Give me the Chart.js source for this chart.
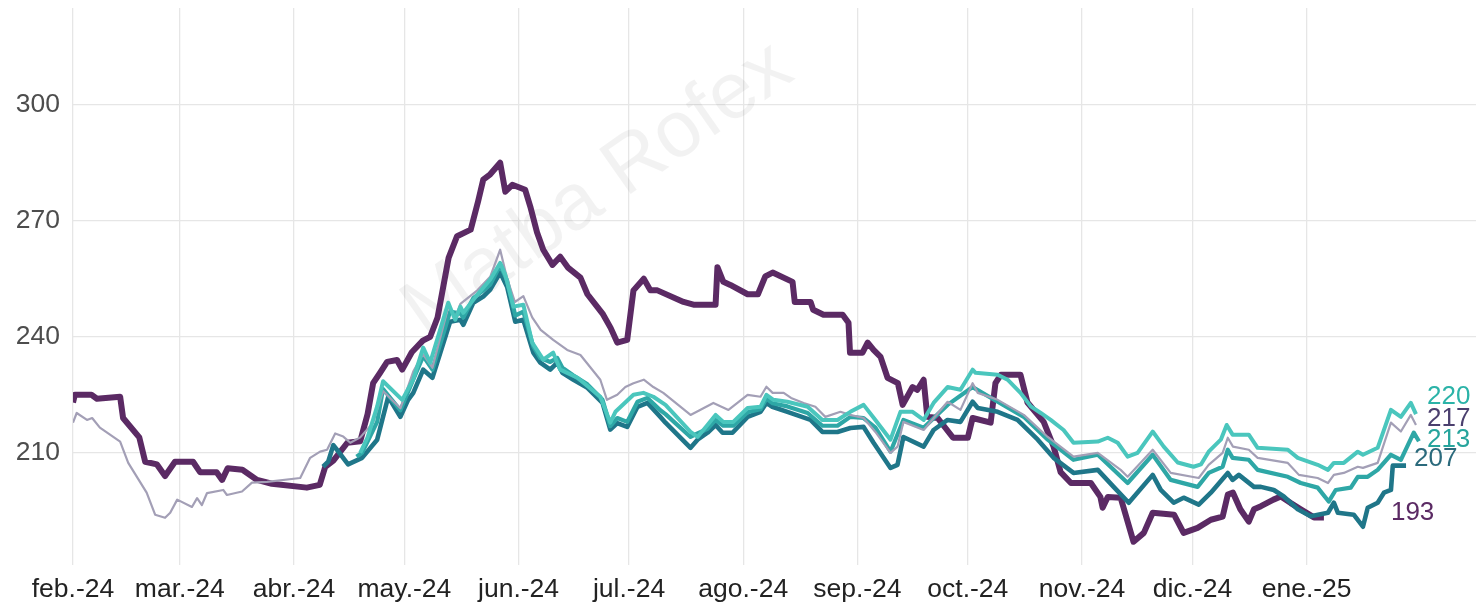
<!DOCTYPE html>
<html>
<head>
<meta charset="utf-8">
<script src="https://cdn.jsdelivr.net/npm/chart.js@4.4.1/dist/chart.umd.min.js"></script>
<style>
  html, body { margin: 0; padding: 0; background: #fff; }
  #wrap { width: 1476px; height: 607px; }
</style>
</head>
<body>
<div id="wrap"><canvas id="chart" width="1476" height="607"></canvas></div>
<script>
// x values are days counted from 1 Feb 2024
const monthStarts = [0, 29, 60, 90, 121, 151, 182, 213, 243, 274, 304, 335];
const monthLabels = ["feb.-24", "mar.-24", "abr.-24", "may.-24", "jun.-24", "jul.-24",
  "ago.-24", "sep.-24", "oct.-24", "nov.-24", "dic.-24", "ene.-25"];
const yTicks = [210, 240, 270, 300];

const series193 = [[0,223],[0.5,225],[5,225],[6.5,224],[12.8,224.5],[13.6,219],[18,214],[19.6,207.7],[22.8,207],[25,204],[27.7,207.7],[32.6,207.7],[34.5,205],[39,205],[40.5,203],[42,206],[46,205.6],[50,203],[54,202],[63.5,201],[67,201.7],[68.5,206.4],[70.7,208],[74.5,212.6],[78,213],[80,220],[81.5,228],[83.4,230.7],[85.3,233.5],[88,234],[89.4,231.5],[92,236],[95,239],[97,240],[99,245],[102,260.4],[104.3,266],[108,267.7],[110,275],[111.4,280.6],[113.3,282],[116,285],[117.4,277.5],[119.3,279.3],[122.8,278],[124.2,273.6],[126,267],[127.7,262.5],[130.2,258.6],[132.3,260.7],[134.5,257.8],[137.8,255.3],[139.7,251],[143.8,246],[146,242.3],[147.8,238.5],[150.5,239.2],[152.2,252],[155,255],[156.8,252],[158.7,252],[165.8,249],[168.5,248.3],[174.5,248.3],[175,258],[176.6,254.2],[178.5,253.4],[183.2,251],[186,251],[188,255.6],[190,256.6],[195.4,254.2],[196,249],[200.3,249],[201,247],[203.8,245.7],[209,245.7],[210.6,243.6],[211,235.9],[214.4,235.9],[215.8,238.5],[217.4,236.6],[219.3,234.8],[221.2,229.4],[224,228],[225.3,222.4],[228,227],[229.3,226.3],[231,228.9],[232,219.3],[234.8,219],[239,213.9],[243,213.9],[244.3,219],[249.2,217.8],[250.5,228],[252,230.2],[257.3,230.2],[259.2,223],[263.6,218],[266.3,211.6],[268.2,205],[271,202.2],[276.4,202.2],[279,198.6],[279.6,195.8],[281,198.6],[284.5,198.4],[288,187],[290.8,189.3],[293.2,194.5],[299,194],[301.6,189.3],[305.4,190.6],[309,192.7],[312.2,193.5],[313.6,199.2],[315,199.7],[317,195.4],[319.3,192.2],[320.7,195.4],[322.6,196.2],[326,197.9],[328,198.7],[330.7,197],[333.4,195.4],[337,193.3],[339.7,193.3]];

const series217 = [[0,217.8],[1,220.3],[3.8,218.5],[5.2,219],[7.3,216.5],[12.8,212.9],[15,207.4],[20,199.7],[22.3,194],[25,193.2],[26.4,194.5],[28.3,197.9],[32.3,196],[33.7,198.3],[35,196.5],[36.4,199.6],[40.8,200.4],[41.8,199.1],[45.9,200],[48.6,202.3],[52.7,202.5],[61.7,203.5],[64.4,208.7],[67.1,210.3],[69,210.8],[71.2,215],[73.4,214.2],[75.3,212.6],[78,214],[81.5,217.8],[84.2,226],[88.9,221.5],[92.4,231],[95,235.5],[97.6,232],[102,248],[103.8,245],[105.2,248.5],[109.8,252],[113.3,255.5],[116,262.5],[117.9,255],[120,249],[122.3,250.5],[124.7,245],[127,241.8],[130.4,239.2],[134.2,236.6],[137.8,235.3],[143.2,228.9],[145,223.7],[147.8,225],[150,227],[152.2,228],[155,228.9],[157.6,227],[160.3,225.5],[167.7,219.8],[173.9,222.9],[178,221.1],[183.2,225],[186.7,224.5],[188.3,227.1],[190,225.5],[193,225.5],[195,224.2],[198.4,222.9],[201.6,221.9],[204.3,219.3],[208.4,220.6],[211,219.8],[214.7,219],[217.9,215.4],[222,210],[223.9,211.6],[225.5,218],[231,215.9],[237.5,223.2],[241,221.1],[244.3,228],[245.7,225.5],[251.1,223.7],[258.2,219.8],[264.7,214.1],[271.7,209],[278.3,210],[284.5,205.6],[286.4,203.8],[293.2,210.8],[298.1,204.8],[305.7,203.5],[308.4,206.9],[312.2,210],[313.6,213.9],[315,211.6],[319.3,210.8],[321.7,208.7],[329.9,207.4],[332.9,204.3],[338,203.5],[340.8,202.2],[342.4,204.3],[345.1,204.8],[348.9,206.4],[350.3,206.1],[354.3,207.4],[357.9,217.8],[360.6,215.5],[363.3,219.8],[364.7,217.2]];

const series220 = [[78,210],[80,214],[82.6,222],[84.2,228.5],[89.4,223.7],[92.4,229],[95.1,237.2],[97,233.3],[101.9,248.8],[103.8,244.4],[105.2,247.8],[106,246.2],[109.8,250.9],[113.3,254.8],[116,259.1],[117.4,256],[119.6,247.8],[122.3,248.3],[124.7,238.5],[127.7,234.1],[130.4,235.9],[132.3,231.5],[137,229.4],[143.2,224.5],[145.9,217.8],[147.3,220.6],[152.2,225],[154.9,225.5],[157.6,224.5],[160.9,222.4],[167.7,215.4],[169.6,214.1],[172.3,217.2],[174.5,219.8],[176.6,218],[179.3,218],[183.2,221.6],[186.7,221.9],[188.3,225],[190.2,223.7],[194,223.2],[199.5,221.9],[203.5,218.5],[207.6,218.5],[211.1,220.6],[214.7,222.4],[217.9,218.5],[222,213.4],[224.7,220.6],[228,220.6],[231,218.5],[233.7,222.9],[237.5,227],[241,226.3],[244.3,231.5],[245.1,230.7],[251.1,230.2],[253.8,228.9],[257.3,225.5],[260.1,222],[262.8,220.3],[265.5,218.5],[269,215.9],[271.7,212.6],[278.3,212.9],[281,213.9],[283.7,212.6],[286.4,209],[289.1,210],[293.2,215.5],[296.2,211.6],[300,207.5],[304.3,206.4],[306.3,207],[308.4,210.3],[311.7,213.4],[313.3,217.2],[314.9,214.7],[319.3,214.7],[321.7,211.3],[329.9,210.8],[332.6,208.7],[338,206.9],[340.8,205.6],[342.4,207.4],[345.1,207.4],[348.9,210.3],[350.3,209.5],[354.3,211.3],[357.9,221.1],[360.6,219.3],[363.3,222.9],[364.7,220]];

const series213 = [[77,209],[78.5,210],[82.6,218],[84.2,226.5],[88.9,221],[92.4,229],[95.1,235],[97.6,231.5],[102.4,246.5],[105.2,246],[106,245],[108.7,250],[111.4,252],[113.3,253.5],[116,258.5],[117.9,254.5],[120.1,245.5],[122.3,246.5],[125,237.5],[126.9,234.5],[129.6,233.5],[131.5,234.5],[132.9,232],[135.9,230],[139.7,227.7],[143.8,223.7],[145.9,216.9],[147.8,219],[150.5,218],[153.3,223.2],[156,224.2],[159.5,221],[160.9,220],[167.7,214.1],[169.6,215],[172.3,216.2],[174.5,218.5],[176.6,217],[179.3,217],[183.2,220.5],[186.7,221.3],[188.3,224],[190,222.8],[194,222],[199.5,220.3],[203.5,217],[207.6,217],[211.1,219.3],[214.7,219],[217.9,216.5],[222,210.3],[225.5,218.5],[231,216.5],[237.5,222.4],[244.3,227],[251.1,223.2],[258.2,219.3],[264.7,213.4],[271.7,208.2],[278.3,209.5],[286.4,202.2],[293.2,209.5],[298.1,203],[305.4,201.2],[308.4,204.8],[312.2,206.4],[313.6,210.8],[314.9,208.7],[319.3,208.2],[321.7,205.6],[329.9,203.8],[333.4,202.2],[338,201],[341,197.4],[342.9,200.4],[347,201],[348.9,203.8],[351.6,203.8],[354.3,205.6],[357.9,209.5],[360.6,208.2],[364.1,215.2],[365.5,213]];

const series207 = [[67.9,206.4],[69.3,207.7],[70.7,212],[72,210.4],[74.7,207],[78.5,208.7],[82.6,213.4],[85.6,224.5],[88.9,219.3],[91,223.7],[92.4,225.5],[95.1,231.5],[97.6,229.4],[102.4,243.9],[105.2,244.4],[106,243.1],[108.7,248.8],[111.4,250.4],[113.3,252.2],[116,256.6],[117.9,252.9],[120.1,243.9],[122.3,244.4],[125,235.9],[126.9,233.3],[129.6,231.5],[131.5,233.3],[132.9,230.7],[135.9,228.9],[139.7,226.8],[143.8,222.9],[145.9,216],[147.8,217.7],[150.5,216.7],[153.3,221.9],[156,222.9],[159.5,219.3],[160.9,217.8],[167.7,211.3],[169.6,213.4],[172.3,215.2],[174.5,217.2],[176.4,215.2],[179.1,215.2],[183.2,219.3],[186.7,220.6],[188.3,222.9],[189.9,221.9],[194,220.6],[200.3,218.5],[203.5,215.4],[207.6,215.4],[211.1,216.4],[214.7,216.7],[217.4,212.6],[222,206.1],[223.9,206.9],[225.5,214.1],[231,211.6],[233.7,215.9],[237.5,218.5],[241,218],[244.3,223.2],[245.7,221.6],[251.1,220.6],[256.5,218.5],[262,213.4],[266.3,208.7],[271.7,204.8],[278.3,205.6],[282.6,201.2],[286.7,197.1],[293.2,204.3],[295.4,200.4],[298.9,197.1],[301.6,198.4],[305.7,196.6],[309,199.7],[313.6,204.8],[314.9,203],[316.6,204.3],[320.7,201.2],[322.6,201.2],[326.1,200.4],[328.8,198.7],[332.6,195.4],[336.1,193.6],[340.8,194.5],[342.4,197.1],[343.5,194.5],[347.8,194],[350.3,190.9],[351.6,195.8],[354.3,197.1],[356,199.7],[357.9,200.4],[358.4,206.7],[362,206.7]];

const toPoints = (arr) => arr.map(([x, y]) => ({ x, y }));
const FONT = "'Liberation Sans', Arial, sans-serif";

const endLabels = {
  id: "endLabels",
  afterDatasetsDraw(chart) {
    const { ctx } = chart;
    ctx.save();
    ctx.font = "26px " + FONT;
    ctx.textBaseline = "middle";
    ctx.textAlign = "left";
    chart.data.datasets.forEach((ds, i) => {
      const meta = chart.getDatasetMeta(i);
      const last = meta.data[meta.data.length - 1];
      const value = ds.data[ds.data.length - 1].y;
      ctx.fillStyle = ds.labelColor;
      ctx.fillText(String(Math.round(value)), last.x + ds.labelDx, last.y + ds.labelDy);
    });
    ctx.restore();
  },
};

const watermark = {
  id: "watermark",
  beforeDatasetsDraw(chart) {
    const { ctx } = chart;
    ctx.save();
    ctx.translate(598, 190);
    ctx.rotate(-35 * Math.PI / 180);
    ctx.font = "80px " + FONT;
    ctx.fillStyle = "rgba(0, 0, 0, 0.05)";
    ctx.textAlign = "center";
    ctx.textBaseline = "middle";
    ctx.fillText("Matba Rofex", 0, 0);
    ctx.restore();
  },
};

const line = (data, color, width, labelColor, labelDx, labelDy) => ({
  data: toPoints(data),
  borderColor: color,
  borderWidth: width,
  pointRadius: 0,
  tension: 0,
  borderJoinStyle: "round",
  labelColor, labelDx, labelDy,
});

new Chart(document.getElementById("chart"), {
  type: "line",
  data: {
    datasets: [
      line(series220, "#4ac6bd", 4, "#2bb3a8", 11, -17),
      line(series217, "#a39fb6", 2.2, "#4b3f6e", 11, -6),
      line(series213, "#2ea7a6", 4.2, "#26a49c", 8, -1),
      line(series207, "#1f7689", 4.6, "#2b6a7c", 8, -7),
      line(series193, "#5b2a64", 6, "#5b2a64", 67, -5),
    ],
  },
  options: {
    responsive: false,
    animation: false,
    layout: { padding: { top: 8, right: 0, left: 0, bottom: 0 } },
    plugins: { legend: { display: false }, tooltip: { enabled: false } },
    scales: {
      x: {
        type: "linear",
        min: 0,
        max: 381,
        afterBuildTicks: (scale) => { scale.ticks = monthStarts.map((v) => ({ value: v })); },
        afterFit: (scale) => { scale.height = 42; scale.paddingLeft = 0; scale.paddingRight = 0; },
        ticks: {
          autoSkip: false,
          maxRotation: 0,
          padding: 9,
          color: "#222",
          font: { size: 26.5, family: FONT },
          callback: (value) => monthLabels[monthStarts.indexOf(value)],
        },
        grid: { color: "#e6e6e6", lineWidth: 1.3, drawTicks: false },
        border: { display: false },
      },
      y: {
        min: 181,
        max: 325,
        afterBuildTicks: (scale) => { scale.ticks = yTicks.map((v) => ({ value: v })); },
        afterFit: (scale) => { scale.width = 73; scale.paddingTop = 0; scale.paddingBottom = 0; },
        ticks: {
          padding: 13,
          color: "#4d4d4d",
          font: { size: 26.5, family: FONT },
        },
        grid: { color: "#e6e6e6", lineWidth: 1.3, drawTicks: false },
        border: { display: false },
      },
    },
  },
  plugins: [watermark, endLabels],
});
</script>
</body>
</html>
